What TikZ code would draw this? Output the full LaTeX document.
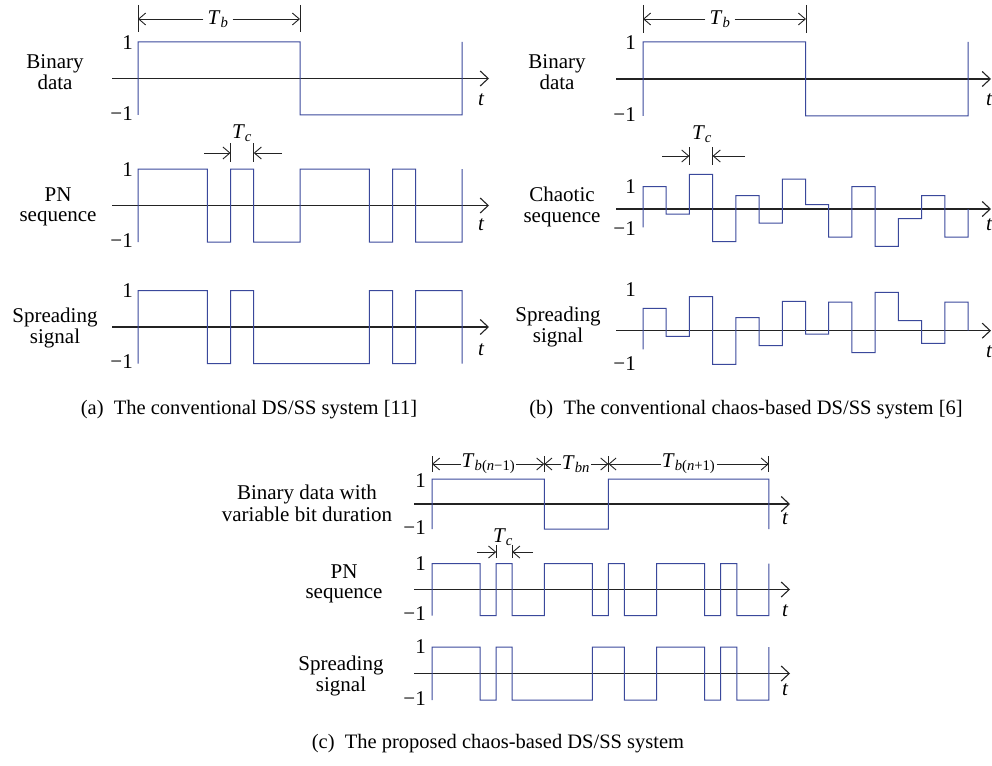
\documentclass[tikz,border=0pt]{standalone}
\usepackage{fontspec}
\setmainfont{Liberation Serif}
\usetikzlibrary{arrows.meta}
\definecolor{wavec}{RGB}{58,72,155}
\definecolor{axc}{RGB}{35,35,35}
\newcommand\wavepath[8]{% x0, w, axis, amp, startlevel, levels, endlevel, xend
  \draw[wave] (#1,{#3-(#5)*#4}) \foreach \lv [count=\ci from 0] in {#6} { -- ({#1+\ci*#2},{#3-\lv*#4}) -- ({#1+(\ci+1)*#2},{#3-\lv*#4}) } -- (#8,{#3-(#7)*#4});
}
\newcommand\Tsym[1]{\textit{T}\textsubscript{#1}}
\begin{document}
\begin{tikzpicture}[x=1pt,y=-1pt,
 wave/.style={draw=wavec, line width=1pt, line join=miter},
 axisline/.style={draw=axc, line width=1.1pt, -{Straight Barb[length=8pt,width=15pt,line width=1.1pt]}},
 dimbar/.style={draw=axc, line width=0.9pt},
 dimarrow/.style={draw=axc, line width=0.9pt, -{Straight Barb[length=7pt,width=12pt,line width=0.9pt]}},
 lbl/.style={font=\fontsize{21}{20.5}\selectfont, align=center, inner sep=0pt},
 ticklbl/.style={font=\fontsize{21}{20}\selectfont, anchor=east, inner sep=0pt},
 tl/.style={font=\fontsize{21}{20}\selectfont\itshape, inner sep=0pt},
 dl/.style={font=\fontsize{21}{20}\selectfont, inner sep=4pt},
 captxt/.style={font=\fontsize{20.5}{22}\selectfont, inner sep=0pt},
 ]
\useasboundingbox (0,0) rectangle (992,765);

% ================= panel (a) =================
\node[lbl] (a-l1) at (55,72) {Binary\\data};
\draw[axisline] (112,78.5) -- (489,78.5);
\wavepath{138}{23.143}{78.5}{36.5}{-1}{1,1,1,1,1,1,1,-1,-1,-1,-1,-1,-1,-1}{1}{462}
\node[ticklbl] (a-p1) at (133,43) {1};
\node[ticklbl] (a-m1) at (133,114) {−1};
\node[tl] (a-t1) at (481,100) {t};
\coordinate (a-b0) at (138,19); \coordinate (a-b1) at (300,19);
\draw[dimbar] (138,5) -- (138,32); \draw[dimbar] (300,5) -- (300,32);
\node[dl] (a-Tb) at (218,19) {\Tsym{\textit{b}}};
\draw[dimarrow] (a-Tb.west) -- (a-b0);
\draw[dimarrow] (a-Tb.east) -- (a-b1);
% PN
\node[lbl] (a-l2) at (58,207) {PN\\sequence};
\draw[axisline] (112,205.5) -- (489,205.5);
\wavepath{138}{23.143}{205.5}{36.5}{-1}{1,1,1,-1,1,-1,-1,1,1,1,-1,1,-1,-1}{1}{462}
\node[ticklbl] (a-p2) at (133,170) {1};
\node[ticklbl] (a-m2) at (133,241) {−1};
\node[tl] (a-t2) at (481,225) {t};
\node[dl] (a-Tc) at (242,133) {\Tsym{\textit{c}}};
\draw[dimbar] (230.6,143) -- (230.6,162); \draw[dimbar] (253.7,143) -- (253.7,162);
\coordinate (a-c0) at (204,153); \coordinate (a-c1) at (230.6,153);
\coordinate (a-c2) at (282,153); \coordinate (a-c3) at (253.7,153);
\draw[dimarrow] (a-c0) -- (a-c1);
\draw[dimarrow] (a-c2) -- (a-c3);
% spreading
\node[lbl] (a-l3) at (55,328) {Spreading\\signal};
\draw[axisline] (112,327) -- (489,327);
\wavepath{138}{23.143}{327}{36.5}{-1}{1,1,1,-1,1,-1,-1,-1,-1,-1,1,-1,1,1}{-1}{462}
\node[ticklbl] (a-p3) at (133,291) {1};
\node[ticklbl] (a-m3) at (133,362) {−1};
\node[tl] (a-t3) at (481,350) {t};
\node[captxt] (a-cap) at (249,410) {(a)\enspace The conventional DS/SS system [11]};

% ================= panel (b) =================
\node[lbl] (b-l1) at (557,72) {Binary\\data};
\draw[axisline] (616,79) -- (991,79);
\wavepath{643}{23.214}{79}{37}{-1}{1,1,1,1,1,1,1,-1,-1,-1,-1,-1,-1,-1}{1}{968}
\node[ticklbl] (b-p1) at (636,43) {1};
\node[ticklbl] (b-m1) at (636,115) {−1};
\node[tl,anchor=west] (b-t1) at (986,100) {t};
\coordinate (b-b0) at (643,19); \coordinate (b-b1) at (806,19);
\draw[dimbar] (643,5) -- (643,33); \draw[dimbar] (806,5) -- (806,33);
\node[dl] (b-Tb) at (720,19) {\Tsym{\textit{b}}};
\draw[dimarrow] (b-Tb.west) -- (b-b0);
\draw[dimarrow] (b-Tb.east) -- (b-b1);
% chaotic
\node[lbl] (b-l2) at (562,207) {Chaotic\\sequence};
\draw[axisline] (616,209) -- (991,209);
\wavepath{643}{23.214}{209}{1}{-18.3}{22.3,-5,34.7,-32.7,13.3,-14,30,4.3,-28,22.3,-37.3,-9.7,13.3,-28}{0}{968}
\node[ticklbl] (b-p2) at (636,187) {1};
\node[ticklbl] (b-m2) at (636,229) {−1};
\node[tl,anchor=west] (b-t2) at (986,225) {t};
\node[dl] (b-Tc) at (702,134) {\Tsym{\textit{c}}};
\draw[dimbar] (689.4,147) -- (689.4,165); \draw[dimbar] (712.6,147) -- (712.6,165);
\coordinate (b-c0) at (662,156); \coordinate (b-c1) at (689.4,156);
\coordinate (b-c2) at (745,156); \coordinate (b-c3) at (712.6,156);
\draw[dimarrow] (b-c0) -- (b-c1);
\draw[dimarrow] (b-c2) -- (b-c3);
% spreading
\node[lbl] (b-l3) at (558,327) {Spreading\\signal};
\draw[axisline] (616,330.7) -- (991,330.7);
\wavepath{643}{23.214}{330.7}{1}{-18.7}{22.3,-5.7,34,-33.7,13,-15,29.3,-3.3,28.7,-22,38.3,10,-12.7,28.7}{0}{968}
\node[ticklbl] (b-p3) at (636,290) {1};
\node[ticklbl] (b-m3) at (636,364) {−1};
\node[tl,anchor=west] (b-t3) at (986,352) {t};
\node[captxt] (b-cap) at (746,410) {(b)\enspace The conventional chaos-based DS/SS system [6]};

% ================= panel (c) =================
\node[lbl,font=\fontsize{21}{22}\selectfont] (c-l1) at (307,503) {Binary data with\\variable bit duration};
\draw[axisline] (414,504) -- (790,504);
\wavepath{432}{16.04}{504}{25}{-1}{1,1,1,1,1,1,1,-1,-1,-1,-1,1,1,1,1,1,1,1,1,1,1}{-1}{768.8}
\node[ticklbl] (c-p1) at (426,481) {1};
\node[ticklbl] (c-m1) at (426,528) {−1};
\node[tl] (c-t1) at (785,519) {t};
\coordinate (c-b0) at (432,464); \coordinate (c-b1) at (544.3,464);
\coordinate (c-b2) at (608.4,464); \coordinate (c-b3) at (768.8,464);
\foreach \xx in {432,544.3,608.4,768.8} { \draw[dimbar] (\xx,456) -- (\xx,472); }
\node[dl,inner sep=1pt] (c-T1) at (488.5,464) {\Tsym{\textit{b}(\textit{n}−1)}};
\node[dl,inner sep=1pt] (c-T2) at (576,464) {\Tsym{\textit{bn}}};
\node[dl,inner sep=1pt] (c-T3) at (688.6,464) {\Tsym{\textit{b}(\textit{n}+1)}};
\draw[dimarrow] (c-T1.west) -- (c-b0); \draw[dimarrow] (c-T1.east) -- (c-b1);
\draw[dimarrow] (c-T2.west) -- (c-b1); \draw[dimarrow] (c-T2.east) -- (c-b2);
\draw[dimarrow] (c-T3.west) -- (c-b2); \draw[dimarrow] (c-T3.east) -- (c-b3);
% PN
\node[lbl] (c-l2) at (344,584) {PN\\sequence};
\draw[axisline] (414,589.5) -- (790,589.5);
\wavepath{432}{16.04}{589.5}{26}{-1}{1,1,1,-1,1,-1,-1,1,1,1,-1,1,-1,-1,1,1,1,-1,1,-1,-1}{1}{768.8}
\node[ticklbl] (c-p2) at (426,564) {1};
\node[ticklbl] (c-m2) at (426,614) {−1};
\node[tl] (c-t2) at (785,611) {t};
\node[dl] (c-Tc) at (503,537) {\Tsym{\textit{c}}};
\draw[dimbar] (496.2,545) -- (496.2,558); \draw[dimbar] (512.2,545) -- (512.2,558);
\coordinate (c-c0) at (477,552); \coordinate (c-c1) at (496.2,552);
\coordinate (c-c2) at (533,552); \coordinate (c-c3) at (512.2,552);
\draw[dimarrow] (c-c0) -- (c-c1);
\draw[dimarrow] (c-c2) -- (c-c3);
% spreading
\node[lbl] (c-l3) at (341,676) {Spreading\\signal};
\draw[axisline] (414,673.5) -- (790,673.5);
\wavepath{432}{16.04}{673.5}{26.5}{-1}{1,1,1,-1,1,-1,-1,-1,-1,-1,1,1,-1,-1,1,1,1,-1,1,-1,-1}{1}{768.8}
\node[ticklbl] (c-p3) at (426,647) {1};
\node[ticklbl] (c-m3) at (426,699) {−1};
\node[tl] (c-t3) at (785,690) {t};
\node[captxt] (c-cap) at (498,744) {(c)\enspace The proposed chaos-based DS/SS system};
\end{tikzpicture}
\end{document}
